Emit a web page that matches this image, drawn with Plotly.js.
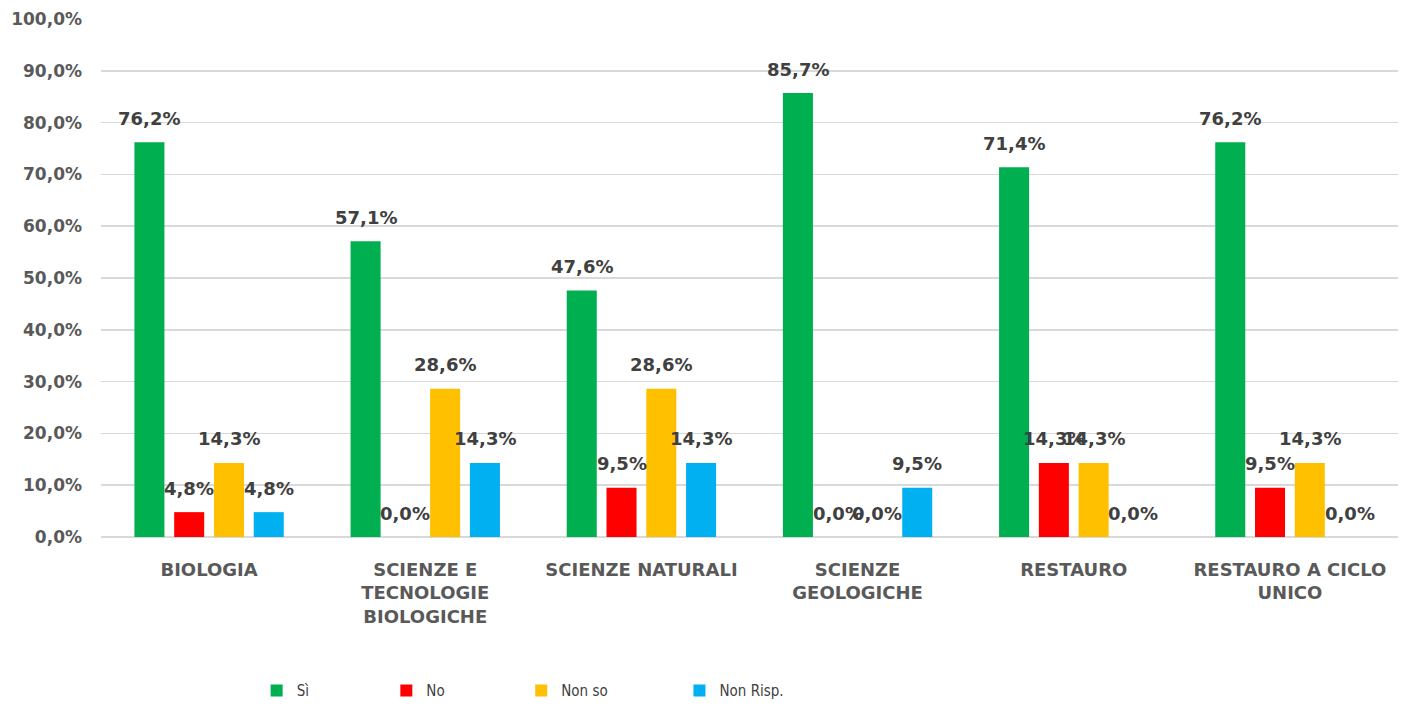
<!DOCTYPE html>
<html>
<head>
<meta charset="utf-8">
<script src="https://cdn.plot.ly/plotly-3.0.1.min.js"></script>
<style>html,body{margin:0;padding:0;background:#fff;}#chart{width:1408px;height:707px;}</style>
</head>
<body>
<div id="chart"></div>
<script>
// ---- data ----
const categories = ["BIOLOGIA", "SCIENZE E<br>TECNOLOGIE<br>BIOLOGICHE", "SCIENZE NATURALI", "SCIENZE<br>GEOLOGICHE", "RESTAURO", "RESTAURO A CICLO<br>UNICO"];
const seriesNames = ["Sì", "No", "Non so", "Non Risp."];
const si = [76.2, 57.1, 47.6, 85.7, 71.4, 76.2];
const no = [4.8, 0.0, 9.5, 0.0, 14.3, 9.5];
const nonSo = [14.3, 28.6, 28.6, 0.0, 14.3, 14.3];
const nonRisp = [4.8, 14.3, 14.3, 9.5, 0.0, 0.0];
const yTicks = [0, 10, 20, 30, 40, 50, 60, 70, 80, 90, 100];

// ---- style ----
const colors = ["#00b050", "#ff0000", "#ffc000", "#00b0f0"];
const W = 1408, H = 707;
const margin = {l: 101, r: 10, t: 19, b: 170, autoexpand: false};
const bargap = 0.264, bargroupgap = 0.245;
const seriesValues = [si, no, nonSo, nonRisp];
const legendIds = ["legend", "legend2", "legend3", "legend4"];
const legendX = [0.12, 0.22, 0.324, 0.446];

const traces = seriesValues.map((vals, i) => ({
  type: "bar",
  name: seriesNames[i],
  x: categories,
  y: vals,
  marker: {color: colors[i]},
  legend: legendIds[i],
  hoverinfo: "skip"
}));

// data labels placed above bars, positions derived from axis geometry
const plotW = W - margin.l - margin.r;
const catW = plotW / categories.length;
const slot = catW * (1 - bargap) / seriesValues.length;
const annotations = [];
seriesValues.forEach((vals, i) => {
  vals.forEach((v, j) => {
    annotations.push({
      xref: "x", yref: "y",
      x: categories[j], y: v,
      xshift: (i - (seriesValues.length - 1) / 2) * slot,
      yshift: 24,
      yanchor: "middle", xanchor: "center",
      showarrow: false,
      text: v.toFixed(1).replace(".", ",") + "%",
      font: {family: "DejaVu Sans", size: 18, color: "#404040", weight: 700}
    });
  });
});

const legendBase = {
  orientation: "h", xanchor: "left", yanchor: "middle", y: -0.297,
  font: {family: "DejaVu Sans Condensed, DejaVu Sans, sans-serif", size: 15, color: "#404040"},
  bgcolor: "rgba(0,0,0,0)", itemwidth: 30
};

const layout = {
  width: W, height: H,
  margin: margin,
  paper_bgcolor: "#ffffff",
  plot_bgcolor: "#ffffff",
  separators: ",.",
  barmode: "group",
  bargap: bargap,
  bargroupgap: bargroupgap,
  showlegend: true,
  annotations: annotations,
  xaxis: {
    type: "category",
    showgrid: false,
    showline: false,
    zeroline: false,
    ticks: "",
    ticklabelstandoff: 20,
    tickfont: {family: "DejaVu Sans", size: 18, color: "#595959", weight: 700},
    tickangle: 0
  },
  yaxis: {
    range: [0, 100],
    tickmode: "array",
    tickvals: yTicks,
    ticktext: yTicks.map(v => v.toFixed(1).replace(".", ",") + "%"),
    showgrid: true,
    gridcolor: "#d9d9d9",
    gridwidth: 1.5,
    zeroline: true,
    zerolinecolor: "#d9d9d9",
    zerolinewidth: 1.5,
    showline: false,
    ticks: "",
    ticklabelstandoff: 18,
    tickfont: {family: "DejaVu Sans", size: 17, color: "#595959", weight: 700}
  }
};
legendIds.forEach((id, i) => {
  layout[id] = Object.assign({}, legendBase, {x: legendX[i]});
});

Plotly.newPlot("chart", traces, layout, {displayModeBar: false, staticPlot: true});
</script>
</body>
</html>
